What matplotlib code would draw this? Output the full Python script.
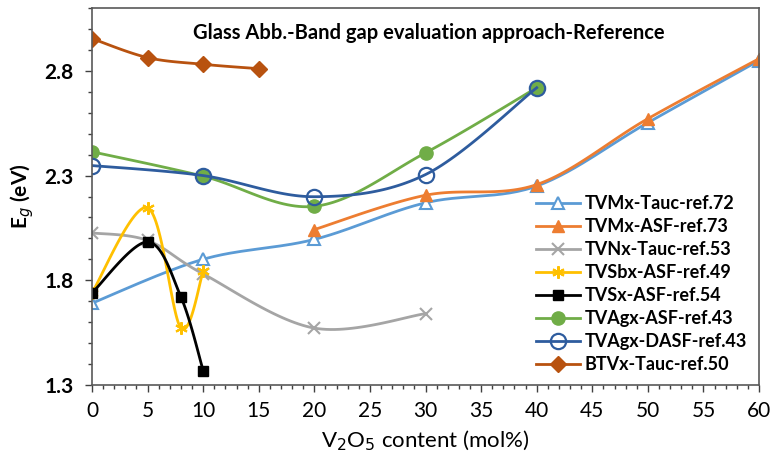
import numpy as np
import matplotlib
matplotlib.use("Agg")
import matplotlib.pyplot as plt
from matplotlib.ticker import MultipleLocator

plt.rcParams['font.family'] = ['Lato', 'DejaVu Sans']

# data
tvmx_tauc_x = [0, 10, 20, 30, 40, 50, 60]
tvmx_tauc_y = [1.69, 1.90, 1.995, 2.17, 2.25, 2.553, 2.85]

tvmx_asf_x = [20, 30, 40, 50, 60]
tvmx_asf_y = [2.042, 2.206, 2.257, 2.572, 2.859]

tvnx_x = [0, 5, 10, 20, 30]
tvnx_y = [2.026, 1.99, 1.83, 1.571, 1.64]

tvsbx_x = [0, 5, 8, 10]
tvsbx_y = [1.74, 2.146, 1.571, 1.842]

tvsx_x = [0, 5, 8, 10]
tvsx_y = [1.739, 1.983, 1.72, 1.368]

tvagx_asf_x = [0, 10, 20, 30, 40]
tvagx_asf_y = [2.414, 2.297, 2.153, 2.409, 2.72]

tvagx_dasf_x = [0, 10, 20, 30, 40]
tvagx_dasf_y = [2.348, 2.30, 2.199, 2.305, 2.72]

btvx_x = [0, 5, 10, 15]
btvx_y = [2.955, 2.864, 2.832, 2.811]


def smooth(xs, ys, n=30):
    # catmull-rom, roughly what excel does for "smoothed line"
    p = np.column_stack([xs, ys]).astype(float)
    p = np.vstack([p[0], p, p[-1]])
    out = []
    t = np.linspace(0, 1, n)
    for i in range(1, len(p) - 2):
        p0, p1, p2, p3 = p[i - 1], p[i], p[i + 1], p[i + 2]
        c1 = p1 + (p2 - p0) / 6
        c2 = p2 - (p3 - p1) / 6
        seg = ((1 - t) ** 3)[:, None] * p1 + (3 * (1 - t) ** 2 * t)[:, None] * c1 \
            + (3 * (1 - t) * t ** 2)[:, None] * c2 + (t ** 3)[:, None] * p2
        out.append(seg)
    s = np.vstack(out)
    return s[:, 0], s[:, 1]


fig, ax = plt.subplots(figsize=(7.73, 4.57), dpi=100)
fig.subplots_adjust(left=0.119, right=0.982, top=0.982, bottom=0.158)

series = [
    (tvmx_tauc_x, tvmx_tauc_y, 'TVMx-Tauc-ref.72', '#5B9BD5', dict(marker='^', mfc='white', ms=8, mew=1.5)),
    (tvmx_asf_x, tvmx_asf_y, 'TVMx-ASF-ref.73', '#ED7D31', dict(marker='^', ms=9)),
    (tvnx_x, tvnx_y, 'TVNx-Tauc-ref.53', '#A5A5A5', dict(marker='x', ms=8, mew=1.5)),
    (tvsbx_x, tvsbx_y, 'TVSbx-ASF-ref.49', '#FFC000', dict(marker=(6, 2, 0), ms=9, mew=1.5)),
    (tvsx_x, tvsx_y, 'TVSx-ASF-ref.54', '#000000', dict(marker='s', ms=7.5)),
    (tvagx_asf_x, tvagx_asf_y, 'TVAgx-ASF-ref.43', '#70AD47', dict(marker='o', ms=9.5)),
    (tvagx_dasf_x, tvagx_dasf_y, 'TVAgx-DASF-ref.43', '#2E5C9E', dict(marker='o', mfc='none', ms=11, mew=1.6)),
    (btvx_x, btvx_y, 'BTVx-Tauc-ref.50', '#B8520F', dict(marker='D', ms=8)),
]

for xs, ys, lab, col, mk in series:
    sx, sy = smooth(xs, ys)
    ax.plot(sx, sy, color=col, lw=2)
    ax.plot(xs, ys, ls='none', color=col, mec=col, **mk)
    ax.plot([], [], color=col, lw=2, label=lab, mec=col, **mk)

ax.set_xlim(0, 60)
ax.set_ylim(1.3, 3.1)
ax.xaxis.set_major_locator(MultipleLocator(5))
ax.xaxis.set_minor_locator(MultipleLocator(1))
ax.set_yticks([1.3, 1.8, 2.3, 2.8])
ax.yaxis.set_minor_locator(MultipleLocator(0.1))
ax.tick_params(which='major', direction='out', length=5, width=1, colors='#404040', labelcolor='black')
ax.tick_params(which='minor', direction='out', length=3, width=1, colors='#404040')
ax.tick_params(axis='x', labelsize=15, pad=7)
ax.tick_params(axis='y', labelsize=15, pad=8)
for lbl in ax.get_yticklabels():
    lbl.set_fontweight('bold')
for sp in ax.spines.values():
    sp.set_color('#595959')
    sp.set_linewidth(1.2)

ax.set_xlabel('V$_2$O$_5$ content (mol%)', fontsize=16, labelpad=5)
ax.set_ylabel('E$_g$ (eV)', fontsize=15, fontweight='bold', labelpad=6)
ax.text(0.505, 0.935, 'Glass Abb.-Band gap evaluation approach-Reference',
        transform=ax.transAxes, ha='center', va='center', fontsize=14.5, fontweight='bold')

ax.legend(loc='lower right', frameon=False, prop={'weight': 'bold', 'size': 13},
          handlelength=2.4, labelspacing=0.33, handletextpad=0.3, borderaxespad=0.25)

fig.savefig('out.png', dpi=100)
